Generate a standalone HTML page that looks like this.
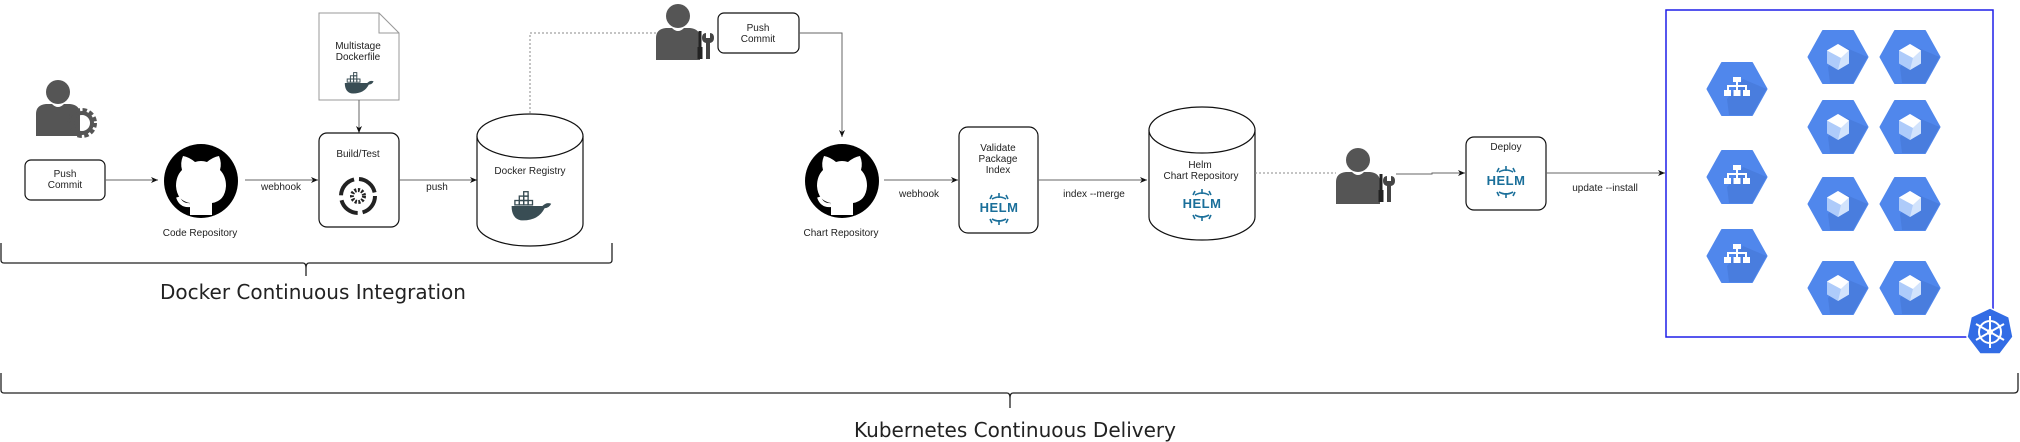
<!DOCTYPE html>
<html><head><meta charset="utf-8"><style>
html,body{margin:0;padding:0;background:#fff;}
svg{display:block;}
text{font-family:"Liberation Sans",sans-serif;fill:#222;}
</style></head><body>
<svg width="2020" height="442" viewBox="0 0 2020 442" xmlns="http://www.w3.org/2000/svg">
<defs>
<marker id="ar" markerWidth="8" markerHeight="8" refX="7" refY="4" orient="auto" markerUnits="userSpaceOnUse">
<path d="M0,1 L7,4 L0,7 L2,4 Z" fill="#111"/></marker>
<g id="person">
<circle cx="0" cy="-14" r="12" fill="#555"/>
<path d="M-22,30 L-22,8 Q-22,-1 -12,-2 L-6,-2 Q0,4 6,-2 L12,-2 Q22,-1 22,8 L22,30 Z" fill="#555"/>
</g>
<g id="tools">
<rect x="-1.5" y="0" width="3" height="16" fill="#222"/><rect x="-2.5" y="16" width="5" height="12" fill="#222"/>
<path d="M6,2 q-4,0 -4,5 q0,4 4,5 v16 h4 v-16 q4,-1 4,-5 q0,-5 -4,-5 v5 h-4 z" fill="#444"/>
</g>
<g id="gh">
<circle cx="0" cy="0" r="37" fill="#000"/>
<path d="M-11,34 L-11,22 Q-24,20 -25,5 Q-25,-5 -19,-11 Q-21,-18 -18,-25 Q-12,-24 -6,-19 Q0,-21 6,-19 Q12,-24 18,-25 Q21,-18 19,-11 Q25,-5 25,5 Q24,20 11,22 L11,34 Z" fill="#fff"/>
<path d="M-11,24 Q-20,25 -23,16" stroke="#fff" stroke-width="4" fill="none"/>
</g>
<g id="helm">
<text x="0" y="5" text-anchor="middle" font-size="13" font-weight="bold" style="fill:#1a6f9a" letter-spacing="0.5">HELM</text>
<path d="M-9,-8 L-7,-12 M0,-9 L0,-14 M9,-8 L7,-12 M-7,-8 Q0,-12 7,-8 M-9,12 L-7,16 M0,13 L0,18 M9,12 L7,16 M-7,12 Q0,16 7,12" stroke="#1a6f9a" stroke-width="1.6" fill="none"/>
</g>
<g id="whale">
<path d="M-14,0 L14,0 Q18,-4 22,-2 Q20,2 16,2 Q10,14 -6,13 Q-14,11 -14,0 Z" fill="#394d54"/>
<g fill="none" stroke="#394d54" stroke-width="1.2">
<rect x="-11" y="-5" width="4" height="4"/><rect x="-7" y="-5" width="4" height="4"/><rect x="-3" y="-5" width="4" height="4"/><rect x="1" y="-5" width="4" height="4"/>
<rect x="-7" y="-9" width="4" height="4"/><rect x="-3" y="-9" width="4" height="4"/><rect x="-3" y="-13" width="4" height="4"/></g>
</g>
<g id="hex">
<polygon points="-29.5,0 -15,-26 15,-26 29.5,0 15,26 -15,26" fill="#5087ec" stroke="#5087ec" stroke-width="2" stroke-linejoin="round"/>
<polygon points="6,-10 29.5,0 15,26 -8,26 -10,10" fill="#4576d6" opacity="0.6"/>
</g>
<g id="cube">
<use href="#hex"/>
<polygon points="0,-13 11,-6.5 11,6.5 0,13 -11,6.5 -11,-6.5" fill="#aecbfa"/>
<polygon points="0,-13 11,-6.5 3,1 -11,-6.5" fill="#fff"/>
<polygon points="3,1 11,-6.5 11,6.5 0,13" fill="#d2e3fc"/>
</g>
<g id="lb">
<use href="#hex"/>
<g fill="#fff"><rect x="-4" y="-12" width="8" height="5"/><rect x="-1" y="-7" width="2" height="4"/><rect x="-10" y="-4" width="20" height="2"/>
<rect x="-10" y="-4" width="2" height="5"/><rect x="-1" y="-4" width="2" height="5"/><rect x="8" y="-4" width="2" height="5"/>
<rect x="-13" y="1" width="7" height="6"/><rect x="-3.5" y="1" width="7" height="6"/><rect x="6" y="1" width="7" height="6"/></g>
</g>
</defs>

<use href="#person" x="58" y="106"/>
<g transform="translate(82,123)">
<circle r="12" fill="none" stroke="#555" stroke-width="6" stroke-dasharray="4 2.3"/>
<circle r="10" fill="none" stroke="#555" stroke-width="4"/>
</g>
<rect x="25" y="160" width="80" height="40" rx="6" fill="#fff" stroke="#111" stroke-width="1.2"/>
<text x="65" y="177" text-anchor="middle" font-size="10">Push</text>
<text x="65" y="188" text-anchor="middle" font-size="10">Commit</text>
<line x1="105" y1="180" x2="158" y2="180" stroke="#666" stroke-width="1" marker-end="url(#ar)"/>
<use href="#gh" x="201" y="181"/>
<text x="200" y="236" text-anchor="middle" font-size="10">Code Repository</text>
<line x1="245" y1="180" x2="318" y2="180" stroke="#666" marker-end="url(#ar)"/>
<text x="281" y="190" text-anchor="middle" font-size="10">webhook</text>

<path d="M319,13 L379,13 L399,33 L399,100 L319,100 Z" fill="#fff" stroke="#999"/>
<path d="M379,13 L379,33 L399,33" fill="none" stroke="#999"/>
<text x="358" y="49" text-anchor="middle" font-size="10">Multistage</text>
<text x="358" y="60" text-anchor="middle" font-size="10">Dockerfile</text>
<g transform="translate(356,83) scale(0.8)"><use href="#whale"/></g>
<line x1="359" y1="100" x2="359" y2="133" stroke="#666" marker-end="url(#ar)"/>
<rect x="319" y="133" width="80" height="94" rx="8" fill="#fff" stroke="#111" stroke-width="1.2"/>
<text x="358" y="157" text-anchor="middle" font-size="10">Build/Test</text>
<g transform="translate(358,196)">
<circle r="17" fill="none" stroke="#222" stroke-width="4" stroke-dasharray="22 5"/>
<circle r="6" fill="none" stroke="#222" stroke-width="4" stroke-dasharray="2 1.5"/>
</g>
<line x1="399" y1="180" x2="477" y2="180" stroke="#666" marker-end="url(#ar)"/>
<text x="437" y="190" text-anchor="middle" font-size="10">push</text>

<path d="M477,136 L477,224 A53,22 0 0 0 583,224 L583,136" fill="#fff" stroke="#111" stroke-width="1.2"/>
<ellipse cx="530" cy="136" rx="53" ry="22" fill="#fff" stroke="#111" stroke-width="1.2"/>
<text x="530" y="174" text-anchor="middle" font-size="10">Docker Registry</text>
<g transform="translate(527,206) scale(1.1)"><use href="#whale"/></g>
<path d="M530,113 L530,33 L672,33" fill="none" stroke="#888" stroke-dasharray="2 2"/>

<path d="M1,243 L1,260 Q1,263 4,263 L303,263 Q306,263 306,268 L306,276 M306,268 Q306,263 309,263 L609,263 Q612,263 612,260 L612,243" fill="none" stroke="#222" stroke-width="1.3"/>
<text x="313" y="299" text-anchor="middle" font-size="20" style="font-family:'DejaVu Sans',sans-serif">Docker Continuous Integration</text>
<path d="M1,373 L1,390 Q1,393 4,393 L1007,393 Q1010,393 1010,398 L1010,408 M1010,398 Q1010,393 1013,393 L2014,393 Q2018,393 2018,389 L2018,373" fill="none" stroke="#222" stroke-width="1.3"/>
<text x="1015" y="437" text-anchor="middle" font-size="20" style="font-family:'DejaVu Sans',sans-serif">Kubernetes Continuous Delivery</text>

<use href="#person" x="678" y="30"/>
<use href="#tools" x="700" y="31"/>
<rect x="718" y="13" width="81" height="40" rx="6" fill="#fff" stroke="#111" stroke-width="1.2"/>
<text x="758" y="31" text-anchor="middle" font-size="10">Push</text>
<text x="758" y="42" text-anchor="middle" font-size="10">Commit</text>
<path d="M799,33 L842,33 L842,137" fill="none" stroke="#666" marker-end="url(#ar)"/>
<use href="#gh" x="842" y="181"/>
<text x="841" y="236" text-anchor="middle" font-size="10">Chart Repository</text>
<line x1="884" y1="180" x2="958" y2="180" stroke="#666" marker-end="url(#ar)"/>
<text x="919" y="197" text-anchor="middle" font-size="10">webhook</text>
<rect x="959" y="127" width="79" height="106" rx="9" fill="#fff" stroke="#111" stroke-width="1.2"/>
<text x="998" y="151" text-anchor="middle" font-size="10">Validate</text>
<text x="998" y="162" text-anchor="middle" font-size="10">Package</text>
<text x="998" y="173" text-anchor="middle" font-size="10">Index</text>
<use href="#helm" x="999" y="207"/>
<line x1="1038" y1="180" x2="1147" y2="180" stroke="#666" marker-end="url(#ar)"/>
<text x="1094" y="197" text-anchor="middle" font-size="10">index --merge</text>
<path d="M1149,130 L1149,217 A53,23 0 0 0 1255,217 L1255,130" fill="#fff" stroke="#111" stroke-width="1.2"/>
<ellipse cx="1202" cy="130" rx="53" ry="23" fill="#fff" stroke="#111" stroke-width="1.2"/>
<text x="1200" y="168" text-anchor="middle" font-size="10">Helm</text>
<text x="1201" y="179" text-anchor="middle" font-size="10">Chart Repository</text>
<use href="#helm" x="1202" y="203"/>
<line x1="1255" y1="173" x2="1336" y2="173" stroke="#888" stroke-dasharray="2 2"/>

<use href="#person" x="1358" y="174"/>
<use href="#tools" x="1381" y="174"/>
<path d="M1396,174 L1432,174 L1432,173 L1465,173" fill="none" stroke="#666" marker-end="url(#ar)"/>
<rect x="1466" y="137" width="80" height="73" rx="8" fill="#fff" stroke="#111" stroke-width="1.2"/>
<text x="1506" y="150" text-anchor="middle" font-size="10">Deploy</text>
<use href="#helm" x="1506" y="180"/>
<line x1="1546" y1="173" x2="1665" y2="173" stroke="#666" marker-end="url(#ar)"/>
<text x="1605" y="191" text-anchor="middle" font-size="10">update --install</text>

<rect x="1666" y="10" width="327" height="327" fill="none" stroke="#1f1fe8" stroke-width="1.5"/>
<use href="#lb" x="1737" y="89"/>
<use href="#lb" x="1737" y="177"/>
<use href="#lb" x="1737" y="256"/>
<use href="#cube" x="1838" y="57"/><use href="#cube" x="1910" y="57"/>
<use href="#cube" x="1838" y="127"/><use href="#cube" x="1910" y="127"/>
<use href="#cube" x="1838" y="204"/><use href="#cube" x="1910" y="204"/>
<use href="#cube" x="1838" y="288"/><use href="#cube" x="1910" y="288"/>
<g transform="translate(1990,332)">
<polygon points="0,-24 19,-15 23,5 10,22 -10,22 -23,5 -19,-15" fill="#326ce5" stroke="#fff" stroke-width="1.5"/>
<circle r="11" fill="none" stroke="#fff" stroke-width="2"/>
<circle r="3" fill="#fff"/>
<g stroke="#fff" stroke-width="2"><line x1="0" y1="-16" x2="0" y2="16"/><line x1="-14" y1="-8" x2="14" y2="8"/><line x1="-14" y1="8" x2="14" y2="-8"/></g>
</g>
</svg>
</body></html>
